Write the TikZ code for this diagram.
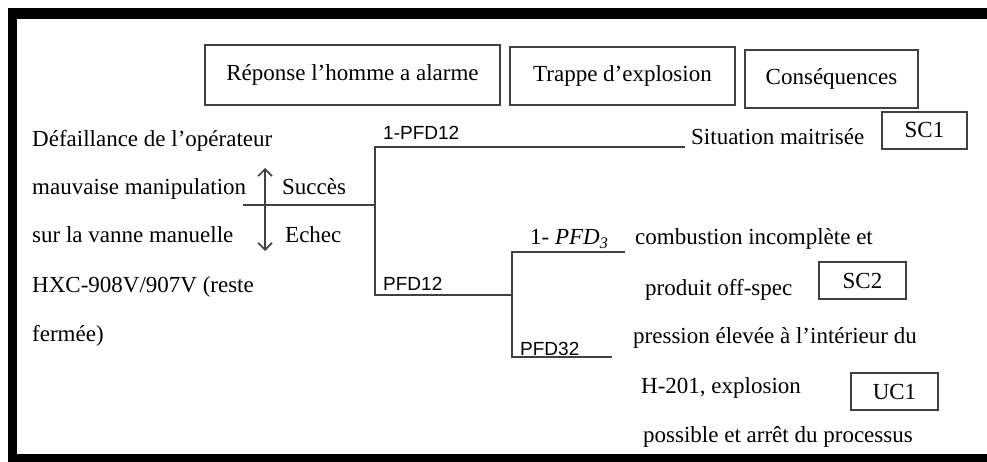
\documentclass[tikz,border=0pt]{standalone}
\usepackage{fontspec}
\setmainfont{Liberation Serif}
\newfontfamily\labelfont{Liberation Sans}
\usetikzlibrary{arrows.meta}

\begin{document}
\begin{tikzpicture}[x=1pt,y=-1pt,
  txt/.style={inner sep=0pt, anchor=base west, font=\fontsize{23}{26}\selectfont},
  prob/.style={inner sep=0pt, anchor=base west, font=\labelfont\fontsize{19}{22}\selectfont},
  hdr/.style={draw=black!75, line width=1.6pt, inner sep=0pt,
              font=\fontsize{23}{26}\selectfont},
  tag/.style={draw=black!75, line width=1.6pt, inner sep=0pt,
              minimum width=86, minimum height=37,
              font=\fontsize{23}{26}\selectfont},
  branch/.style={draw=black!75, line width=1.6pt},
  frame/.style={fill=black}]

\useasboundingbox (0,0) rectangle (987,462);

% outer frame (open on the right)
\fill[frame] (8,8) rectangle (987,19);
\fill[frame] (8,8) rectangle (17,462);
\fill[frame] (8,454) rectangle (987,462);

% column headers
\node[hdr, minimum width=295, minimum height=60] (h1) at (352.5,75) {Réponse l’homme a alarme};
\node[hdr, minimum width=225, minimum height=58] (h2) at (622.5,76) {Trappe d’explosion};
\node[hdr, minimum width=173, minimum height=58] (h3) at (831.5,79) {Conséquences};

% initiating event
\node[txt] (e1) at (32,147) {Défaillance de l’opérateur};
\node[txt] (e2) at (32,195) {mauvaise manipulation};
\node[txt] (e3) at (32,243) {sur la vanne manuelle};
\node[txt] (e4) at (32,292) {HXC-908V/907V (reste};
\node[txt] (e5) at (32,341) {fermée)};

% success / failure convention
\coordinate (aup) at (265,168);
\coordinate (adn) at (265,251);
\draw[branch, {Straight Barb[length=7pt,width=14pt]}-{Straight Barb[length=7pt,width=14pt]}] (aup) -- (adn);
\node[txt] (succ) at (282,195) {Succès};
\node[txt] (ech) at (285,243) {Echec};

% event tree branches
\coordinate (r0) at (243,205);
\coordinate (j1) at (375,205);
\coordinate (j1t) at (375,147);
\coordinate (j1b) at (375,295);
\coordinate (t1) at (685,147);
\coordinate (j2) at (512,295);
\coordinate (j2t) at (512,252);
\coordinate (j2b) at (512,357);
\coordinate (t2) at (625,252);
\coordinate (t3) at (612,357);

\draw[branch] (r0) -- (j1);
\draw[branch] (t1) -- (j1t) -- (j1b) -- (j2);
\draw[branch] (t2) -- (j2t) -- (j2b) -- (t3);

% branch probabilities
\node[prob] (p1) at (383,140) {1-PFD12};
\node[prob] (p2) at (383,290) {PFD12};
\node[txt] (p3) at (530,245) {1- \textit{PFD}\textsubscript{\textit{3}}};
\node[prob] (p4) at (520,355) {PFD32};

% outcomes
\node[txt] (o1) at (691,145) {Situation maitrisée};
\node[tag, minimum width=85] (sc1) at (924.5,130.5) {SC1};

\node[txt] (o2a) at (635,244) {combustion incomplète et};
\node[txt] (o2b) at (645,295) {produit off-spec};
\node[tag, minimum width=87] (sc2) at (862.5,280.5) {SC2};

\node[txt] (o3a) at (633,343) {pression élevée à l’intérieur du};
\node[txt] (o3b) at (641,393) {H-201, explosion};
\node[txt] (o3c) at (643,442) {possible et arrêt du processus};
\node[tag, minimum width=87] (uc1) at (894.5,391.5) {UC1};

\end{tikzpicture}
\end{document}
